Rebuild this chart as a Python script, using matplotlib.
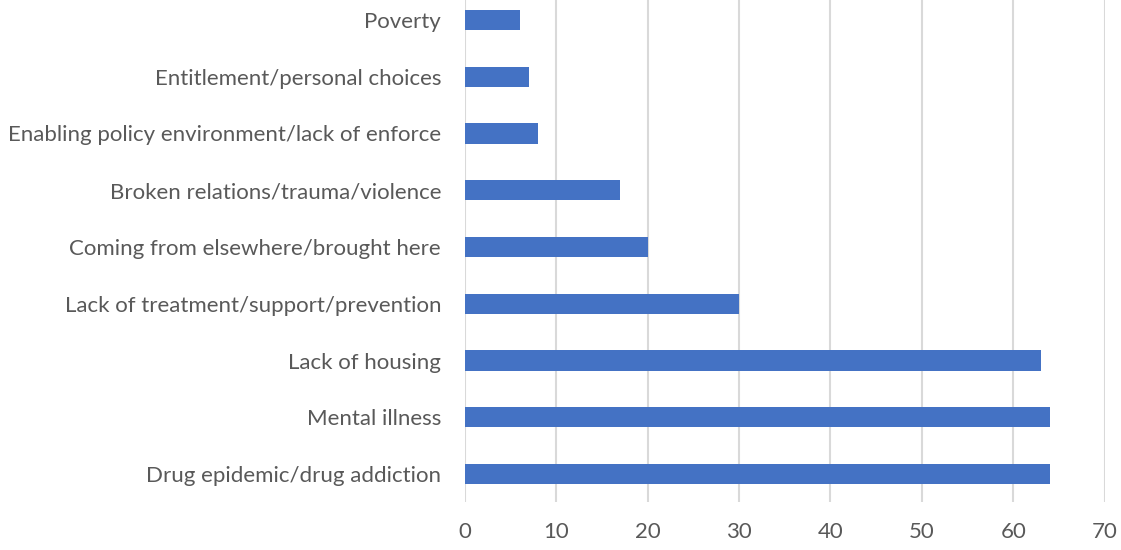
import matplotlib.pyplot as plt
import numpy as np

plt.rcParams['font.family'] = ['Lato', 'DejaVu Sans']

causes = ['Drug epidemic/drug addiction', 'Mental illness', 'Lack of housing',
          'Lack of treatment/support/prevention', 'Coming from elsewhere/brought here',
          'Broken relations/trauma/violence',
          'Enabling policy environment/lack of enforce',
          'Entitlement/personal choices', 'Poverty']
counts = [64, 64, 63, 30, 20, 17, 8, 7, 6]
xticks = [0, 10, 20, 30, 40, 50, 60, 70]

fig = plt.figure(figsize=(11.21, 5.5), dpi=100)
ax = fig.add_axes([0.4145, 0.0865, 0.571, 0.9288])

y = np.arange(len(causes))
ax.barh(y, counts, height=0.355, color='#4472c4', zorder=3)

ax.set_xlim(0, 70)
ax.set_ylim(-0.5, len(causes) - 0.5)
ax.set_xticks(xticks)
ax.set_yticks(y)
ax.set_yticklabels(causes)
ax.grid(axis='x', color='#d9d9d9', linewidth=1.5, zorder=0)
for s in ax.spines.values():
    s.set_visible(False)
ax.tick_params(axis='both', length=0, labelsize=16, labelcolor='#595959')
ax.tick_params(axis='y', pad=17)
ax.tick_params(axis='x', pad=14)

plt.savefig('out.png', dpi=100)
